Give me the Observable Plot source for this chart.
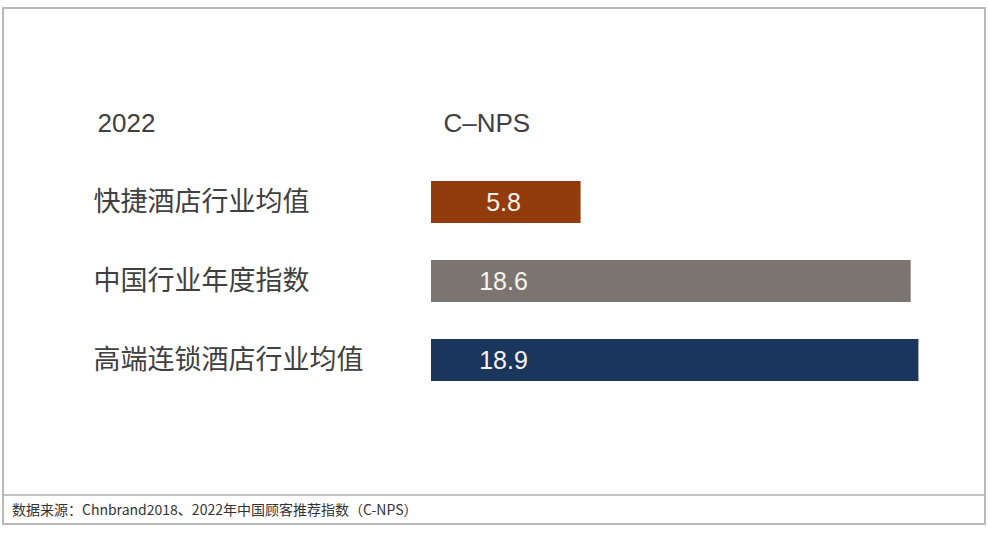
<!DOCTYPE html>
<html>
<head>
<meta charset="utf-8">
<script src="https://cdn.jsdelivr.net/npm/d3@7"></script>
<script src="https://cdn.jsdelivr.net/npm/@observablehq/plot@0.6"></script>
<style>
  html, body { margin: 0; padding: 0; background: #fff; }
  body { width: 988px; height: 535px; position: relative; overflow: hidden; font-family: "Liberation Sans", "Noto Sans CJK SC", sans-serif; }
  #frame { position: absolute; left: 2px; top: 7px; width: 980px; border: 2px solid #b9b9b9; }
  #chart svg { display: block; }
  #caption { border-top: 2px solid #c4c4c4; height: 27px; line-height: 27px; padding-left: 8px; font-size: 14px; color: #333; font-family: "Noto Sans CJK SC", sans-serif; }
</style>
</head>
<body>
<div id="frame">
  <div id="chart"></div>
  <div id="caption"></div>
</div>
<script>
const headerYear = "2022";
const headerMetric = "C\u2013NPS";
const categories = ["快捷酒店行业均值", "中国行业年度指数", "高端连锁酒店行业均值"];
const values = [5.8, 18.6, 18.9];
const colors = ["#923b0c", "#7a7571", "#1b365d"];
const captionText = "数据来源：Chnbrand2018、2022年中国顾客推荐指数（C-NPS）";

const rows = categories.map((c, i) => ({category: c, value: values[i], color: colors[i]}));
const header = [{category: headerYear}];

const plot = Plot.plot({
  width: 980,
  height: 485,
  marginLeft: 427,
  marginRight: 63,
  marginTop: 93,
  marginBottom: 113,
  x: {domain: [0, 19], axis: null},
  y: {domain: [headerYear, ...categories], axis: null, paddingInner: 0.47, paddingOuter: 0},
  style: {fontFamily: "'Liberation Sans', 'Noto Sans CJK SC', sans-serif"},
  marks: [
    Plot.barX(rows, {x: "value", y: "category", fill: "color"}),
    Plot.text(rows, {x: 0, y: "category", text: d => d.value.toFixed(1), dx: 72, textAnchor: "middle", fill: "#f7f3ec", fontSize: 25}),
    Plot.text(rows, {y: "category", text: "category", frameAnchor: "left", dx: -338, textAnchor: "start", fill: "#404040", fontSize: 27, fontFamily: "'Noto Sans CJK SC', sans-serif"}),
    Plot.text(header, {y: "category", text: () => headerYear, frameAnchor: "left", dx: -334, textAnchor: "start", fill: "#404040", fontSize: 26}),
    Plot.text(header, {y: "category", text: () => headerMetric, frameAnchor: "left", dx: 12, textAnchor: "start", fill: "#404040", fontSize: 26})
  ]
});
document.getElementById("chart").appendChild(plot);
document.getElementById("caption").textContent = captionText;
</script>
</body>
</html>
